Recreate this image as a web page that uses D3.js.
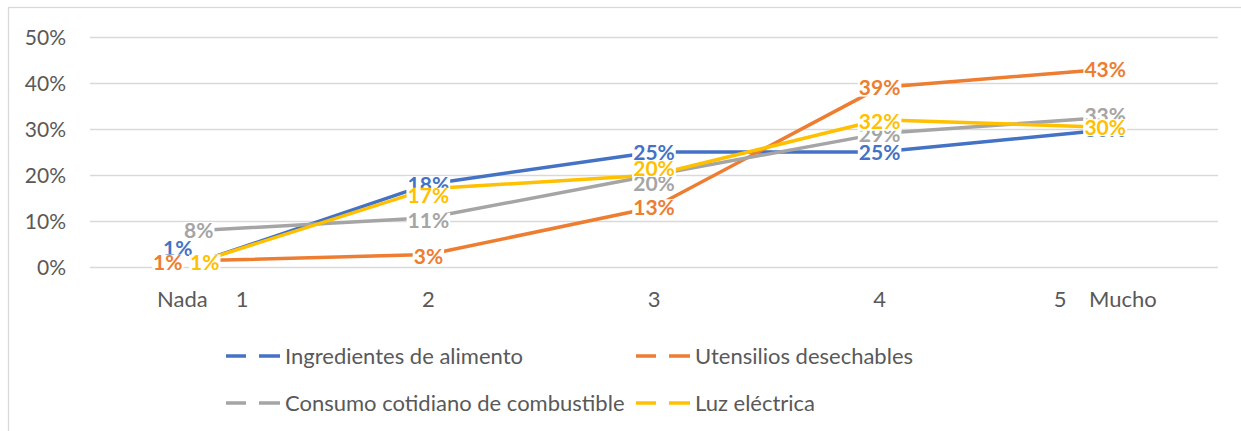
<!DOCTYPE html>
<html>
<head>
<meta charset="utf-8">
<title>Line chart</title>
<style type="text/css">
body{ margin: 0; background: #fff; }
svg text{ font-family: Lato, "Open Sans", sans-serif; }
.axis path, .axis line{ display: none; }
.axis text{ fill: #595959; font-size: 21px; white-space: pre; }
.xaxis text{ font-size: 22px; }
.label{ font-weight: bold; font-size: 21px; }
.legend text{ fill: #595959; font-size: 22px; }
</style>
<script type="text/javascript" src="https://cdn.jsdelivr.net/npm/d3@7"></script>
</head>
<body>
<script>
// categories and tick labels
var categories = ["1", "2", "3", "4", "5"];
var xTickLabels = ["Nada     1", "2", "3", "4", "5    Mucho"];
var yTicks = [0, 0.1, 0.2, 0.3, 0.4, 0.5];

// series
var seriesNames = ["Ingredientes de alimento", "Utensilios desechables", "Consumo cotidiano de combustible", "Luz eléctrica"];
var ingredientes = [0.014, 0.18, 0.25, 0.25, 0.298];
var utensilios   = [0.014, 0.027, 0.13, 0.39, 0.43];
var combustible  = [0.08, 0.107, 0.20, 0.29, 0.325];
var luz          = [0.014, 0.17, 0.20, 0.32, 0.304];
var labelTexts = [
  ["1%", "18%", "25%", "25%", "30%"],
  ["1%", "3%", "13%", "39%", "43%"],
  ["8%", "11%", "20%", "29%", "33%"],
  ["1%", "17%", "20%", "32%", "30%"]
];

var colors = ["#4472C4", "#ED7D31", "#A5A5A5", "#FFC000"];
var allSeries = [ingredientes, utensilios, combustible, luz];

// manual nudges of the data labels [dx, dy] (px)
var nudges = [
  [[-25, -12], [0, 0], [0, 0], [0, 0], [0, 0]],
  [[-35, 2], [0, 2], [0, 0], [0, 0], [0, 0]],
  [[-4, 0], [0, 3], [0, 8], [0, 1], [0, -2]],
  [[2, 2], [0, 7], [0, -7], [0, 2], [0, 0]]
];

var width = 1241, height = 431;
var margin = {top: 37, left: 90, right: 23, bottom: 164};

var svg = d3.select("body").append("svg").attr("width", width).attr("height", height);

// chart border
svg.append("rect").attr("x", 8.5).attr("y", 7.5).attr("width", 1250).attr("height", 440)
  .attr("fill", "none").attr("stroke", "#d9d9d9").attr("stroke-width", 1.3);

var xScale = d3.scaleBand().domain(categories).range([margin.left, width - margin.right]);
var yScale = d3.scaleLinear().domain([0, 0.5]).range([height - margin.bottom, margin.top]);
var cx = function(i){ return xScale(categories[i]) + xScale.bandwidth() / 2; };

// gridlines
svg.append("g").selectAll("line").data(yTicks).enter().append("line")
  .attr("x1", margin.left).attr("x2", width - margin.right)
  .attr("y1", d => Math.round(yScale(d)) + 0.5).attr("y2", d => Math.round(yScale(d)) + 0.5)
  .attr("stroke", "#d9d9d9").attr("stroke-width", 1.3);

// y axis
var yAxis = d3.axisLeft(yScale).tickValues(yTicks).tickFormat(d3.format(".0%")).tickSize(0).tickPadding(24);
svg.append("g").attr("class", "axis").attr("transform", `translate(${margin.left},0)`).call(yAxis)
  .selectAll("text").attr("dy", "0.35em");

// x axis
var xAxis = d3.axisBottom(xScale).tickFormat((d, i) => xTickLabels[i]).tickSize(0).tickPadding(24);
svg.append("g").attr("class", "axis xaxis").attr("transform", `translate(0,${height - margin.bottom})`).call(xAxis);

// lines
var lineGen = d3.line().x((d, i) => cx(i)).y(d => yScale(d));
svg.append("g").selectAll("path").data(allSeries).enter().append("path")
  .attr("d", d => lineGen(d))
  .attr("fill", "none")
  .attr("stroke", (d, i) => colors[i])
  .attr("stroke-width", 3.5)
  .attr("stroke-linejoin", "round");

// data labels with white background (tight box around the glyphs)
var labelG = svg.append("g");
allSeries.forEach(function(s, si){
  s.forEach(function(v, i){
    var g = labelG.append("g")
      .attr("transform", `translate(${cx(i) + nudges[si][i][0]},${yScale(v) + nudges[si][i][1]})`);
    var bg = g.append("rect").attr("fill", "#fff");
    var t = g.append("text").attr("class", "label")
      .attr("text-anchor", "middle").attr("dy", "0.36em")
      .attr("fill", colors[si]).text(labelTexts[si][i]);
    var bb = t.node().getBBox();
    bg.attr("x", bb.x - 1).attr("y", -8).attr("width", bb.width + 2).attr("height", 17);
  });
});

// legend
var legendPos = [[226, 356], [636, 356], [226, 403], [636, 403]];
var legend = svg.append("g").attr("class", "legend");
seriesNames.forEach(function(name, i){
  var g = legend.append("g").attr("transform", `translate(${legendPos[i][0]},${legendPos[i][1]})`);
  g.append("line").attr("x1", 0).attr("x2", 20).attr("stroke", colors[i]).attr("stroke-width", 3.5);
  g.append("line").attr("x1", 33).attr("x2", 54).attr("stroke", colors[i]).attr("stroke-width", 3.5);
  g.append("text").attr("x", 59).attr("dy", "0.35em").text(name);
});
</script>
</body>
</html>
